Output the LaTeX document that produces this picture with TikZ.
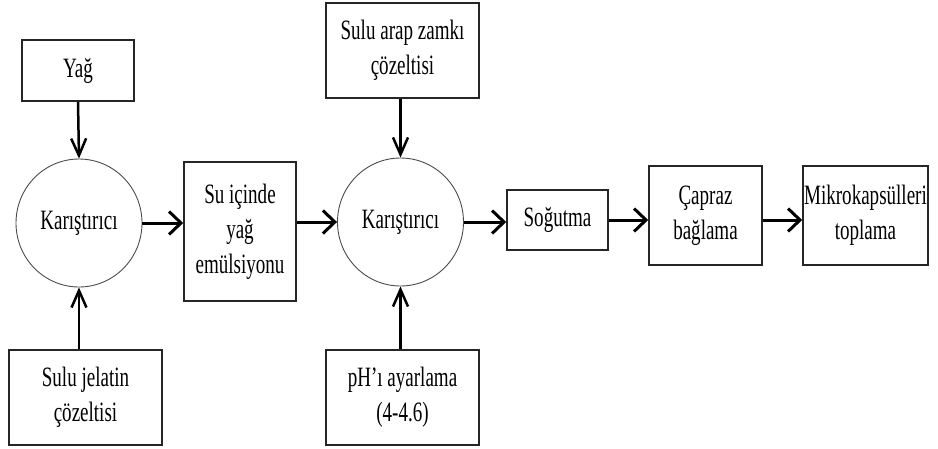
\documentclass[tikz,border=0pt]{standalone}
\usepackage{fontspec}
\setmainfont{Liberation Serif}[FakeStretch=0.68]
\usetikzlibrary{arrows.meta,shapes.geometric}
\begin{document}
\begin{tikzpicture}[x=1pt,y=-1pt,
  box/.style={rectangle,draw=black!85,line width=1.6pt,inner sep=0pt,align=center,
    font=\fontsize{28}{35}\selectfont},
  mixer/.style={ellipse,draw=black!70,line width=0.9pt,minimum width=126pt,minimum height=128pt,
    inner sep=0pt,font=\fontsize{28}{35}\selectfont},
  harr/.style={line width=3pt,-{Straight Barb[length=12pt,width=23pt]}},
  varr/.style={line width=2.5pt,-{Straight Barb[length=17pt,width=15pt]}}]
\useasboundingbox[fill=white] (0,0) rectangle (938,448);
\node[box,minimum width=112pt,minimum height=61pt] (yag) at (78,70.5) {Yağ};
\node[mixer] (mix1) at (79,223) {Karıştırıcı};
\node[box,minimum width=153pt,minimum height=95pt] (jel) at (85.5,397.5) {Sulu jelatin\\çözeltisi};
\node[box,minimum width=112pt,minimum height=139pt] (emul) at (240,231.5) {Su içinde\\yağ\\emülsiyonu};
\node[box,minimum width=153pt,minimum height=95pt] (arap) at (402.5,50.5) {Sulu arap zamkı\\çözeltisi};
\node[mixer] (mix2) at (400.5,222) {Karıştırıcı};
\node[box,minimum width=153pt,minimum height=95pt] (ph) at (402.5,397.5) {pH’ı ayarlama\\(4-4.6)};
\node[box,minimum width=101pt,minimum height=60pt] (sog) at (557.5,220) {Soğutma};
\node[box,minimum width=113pt,minimum height=99pt] (cap) at (705.5,215.5) {Çapraz\\bağlama};
\node[box,minimum width=125pt,minimum height=99pt] (mik) at (865.5,215.5) {Mikrokapsülleri\\toplama};
\draw[varr] (yag.south) -- (mix1.north);
\draw[varr] (mix1.south |- jel.north) -- (mix1.south);
\draw[varr] (mix2.north |- arap.south) -- (mix2.north);
\draw[varr] (mix2.south |- ph.north) -- (mix2.south);
\draw[harr] (mix1.east) -- (mix1.east -| emul.west);
\draw[harr] (mix2.west -| emul.east) -- (mix2.west);
\draw[harr] (mix2.east) -- (mix2.east -| sog.west);
\draw[harr] (sog.east) -- (sog.east -| cap.west);
\draw[harr] (sog.east -| cap.east) -- (sog.east -| mik.west);
\end{tikzpicture}
\end{document}
